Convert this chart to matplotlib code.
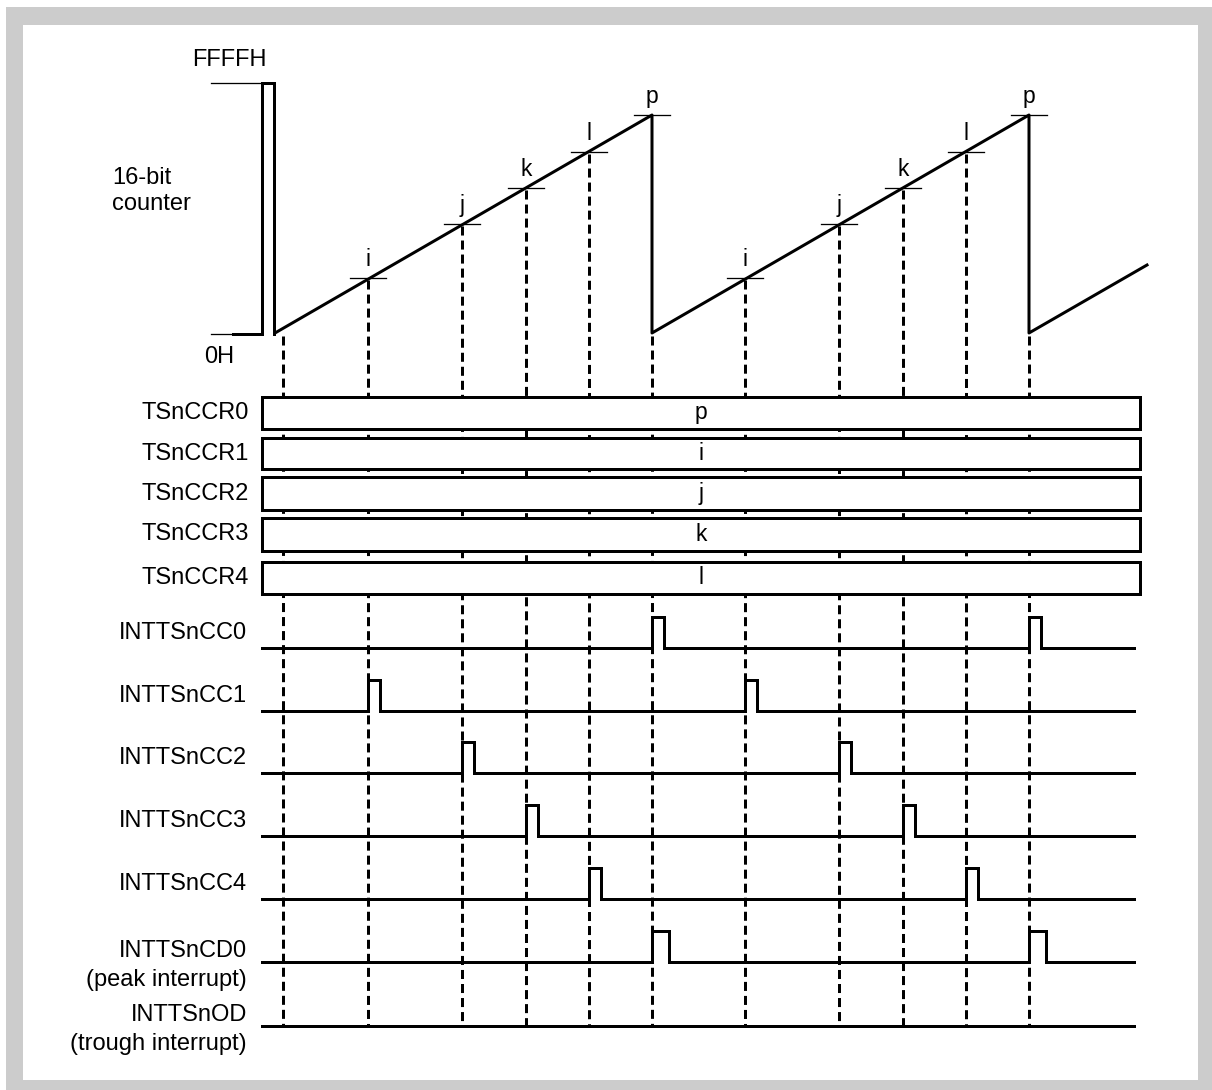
import numpy as np
import matplotlib
matplotlib.use("Agg")
import matplotlib.pyplot as plt
from matplotlib.patches import Rectangle

plt.rcParams["font.family"] = ["Liberation Sans", "DejaVu Sans"]
plt.rcParams["lines.scale_dashes"] = False

# --- counter waveform (pixel coords, y grows downwards) ---
counter_x = [275, 652, 652, 1029, 1029, 1147]
counter_y = [333, 115, 333, 115, 333, 265]
top_level = 83      # FFFFH
zero_level = 334    # 0H

# compare match points
match_labels = ["i", "j", "k", "l", "p"]
match_x_cycle1 = [368, 462, 526, 589, 652]
match_x_cycle2 = [745, 839, 903, 966, 1029]
match_y = [278, 224, 188, 152, 115]
trough_x = 283

# --- compare registers ---
reg_names = ["TSnCCR0", "TSnCCR1", "TSnCCR2", "TSnCCR3", "TSnCCR4"]
reg_values = ["p", "i", "j", "k", "l"]
reg_top = [397, 438, 477, 518, 562]
reg_bottom = [429, 469, 510, 551, 594]
reg_left, reg_right = 262, 1140

# --- interrupt signals ---
sig_names = ["INTTSnCC0", "INTTSnCC1", "INTTSnCC2", "INTTSnCC3", "INTTSnCC4",
             "INTTSnCD0\n(peak interrupt)", "INTTSnOD\n(trough interrupt)"]
sig_y = [648, 711, 773, 836, 899, 962, 1026]
sig_pulses = [[652, 1029], [368, 745], [462, 839], [526, 903], [589, 966],
              [652, 1029], []]
sig_pulse_w = [12, 12, 12, 12, 12, 17, 0]
pulse_h = 31
sig_start, sig_end = 262, 1134

PX = 0.72  # px -> pt at 100 dpi
FS = 17

fig = plt.figure(figsize=(12.12, 10.90), dpi=100)
ax = fig.add_axes([0, 0, 1, 1])
ax.set_xlim(0, 1212)
ax.set_ylim(1090, 0)
ax.axis("off")

# frame
ax.add_patch(Rectangle((6, 7), 1206, 1083, facecolor="#cccccc", edgecolor="none", zorder=0))
ax.add_patch(Rectangle((23, 25), 1175, 1055, facecolor="white", edgecolor="none", zorder=0))

# counter axis marks
ax.plot([211, 262], [top_level, top_level], color="black", lw=1.3 * PX, zorder=3)
ax.plot([211, 262], [zero_level, zero_level], color="black", lw=1.3 * PX, zorder=3)
ax.plot([233, 262], [zero_level, zero_level], color="black", lw=3 * PX, zorder=3)
ax.plot([262, 262, 273.5, 273.5], [zero_level, top_level, top_level, zero_level],
        color="black", lw=3 * PX, solid_joinstyle="miter", zorder=3)
ax.text(192, 66, "FFFFH", fontsize=FS, ha="left", va="baseline")
ax.text(112, 184, "16-bit", fontsize=FS, ha="left", va="baseline")
ax.text(112, 210, "counter", fontsize=FS, ha="left", va="baseline")
ax.text(204, 363, "0H", fontsize=FS, ha="left", va="baseline")

# counter ramp
ax.plot(counter_x, counter_y, color="black", lw=3 * PX, zorder=4)

# compare ticks and labels
for xs in (match_x_cycle1, match_x_cycle2):
    for lab, x, y in zip(match_labels, xs, match_y):
        ax.plot([x - 18, x + 18], [y, y], color="black", lw=1.3 * PX, zorder=3)
        ax.text(x, y - 12, lab, fontsize=16.5, ha="center", va="baseline")

# dashed guide lines
dash_x = [trough_x] + match_x_cycle1 + match_x_cycle2
dash_top = [zero_level] + match_y[:-1] + [zero_level] + match_y[:-1] + [zero_level]
for x, y0 in zip(dash_x, dash_top):
    ax.plot([x, x], [y0 + 2, sig_y[-1]], color="black", lw=3 * PX,
            ls=(0, (6.5, 3.6)), zorder=1)

# register boxes
for name, val, t, b in zip(reg_names, reg_values, reg_top, reg_bottom):
    ax.add_patch(Rectangle((reg_left, t), reg_right - reg_left, b - t,
                           facecolor="white", edgecolor="black", lw=3 * PX, zorder=5))
    ax.text((reg_left + reg_right) / 2, (t + b) / 2, val, fontsize=16.5,
            ha="center", va="center", zorder=6)
    ax.text(249, (t + b) / 2, name, fontsize=FS, ha="right", va="center")

# interrupt waveforms
for name, y, pulses, w in zip(sig_names, sig_y, sig_pulses, sig_pulse_w):
    xs, ys = [sig_start], [y]
    for px in pulses:
        xs += [px, px, px + w, px + w]
        ys += [y, y - pulse_h, y - pulse_h, y]
    xs.append(sig_end)
    ys.append(y)
    ax.plot(xs, ys, color="black", lw=3 * PX, solid_joinstyle="miter", zorder=4)
    lines = name.split("\n")
    off = -9 if len(lines) == 1 else -5
    for k, line in enumerate(lines):
        ax.text(247, y + off + k * 29, line, fontsize=FS, ha="right", va="baseline")

fig.savefig("out.png", dpi=100)
